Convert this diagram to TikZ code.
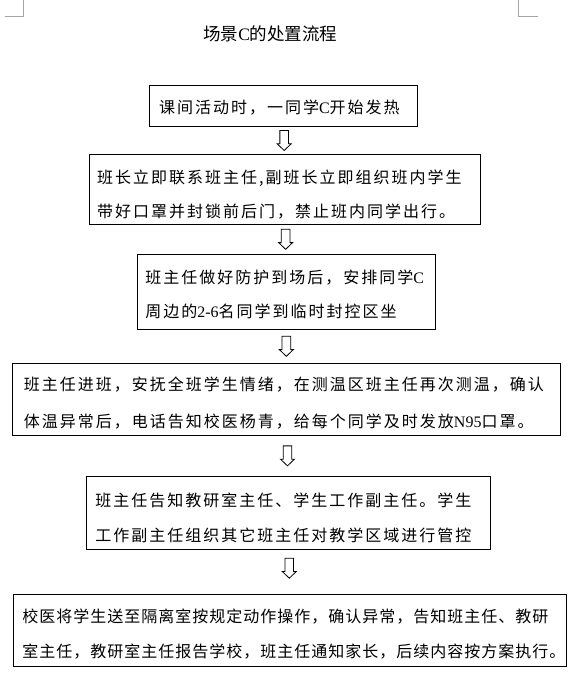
\documentclass[tikz,border=0pt]{standalone}
\usepackage{fontspec}
\usetikzlibrary{calc}
\newfontfamily\cjkbody[LetterSpace=12.5]{Noto Sans CJK SC}
\newfontfamily\cjkbodyb[LetterSpace=6.25]{Noto Sans CJK SC}
\newfontfamily\cjktitle{Noto Sans CJK SC}
\newfontfamily\latf{Liberation Serif}
\newcommand\LatinTxt[1]{{\latf #1}}
\begin{document}
\begin{tikzpicture}[x=1pt,y=-1pt]
\tikzset{
  stepbox/.style={draw=black, line width=0.9pt, inner sep=0pt},
  boxtext/.style={anchor=west, inner sep=0pt, align=left, text=black},
  hollowarrow/.style={draw=black, line width=0.8pt, line join=miter, fill=white},
  cornermark/.style={draw=black!35, line width=0.8pt}
}
\fill[white] (0,0) rectangle (582,695);
\useasboundingbox (0,0) rectangle (582,695);

% page corner marks
\draw[cornermark] (4.5,16.7) -- (23.4,16.7) -- (23.4,0);
\draw[cornermark] (537.7,16.7) -- (518.4,16.7) -- (518.4,0);

% title
\node[inner sep=0pt, font=\fontsize{17.5}{20}\cjktitle] (title) at (270.4,34.3) {场景\LatinTxt{C}的处置流程};

% boxes
\node[stepbox, minimum width=268.3pt, minimum height=41pt] (b1) at (283.45,106.2) {};
\node[stepbox, minimum width=391.6pt, minimum height=70pt] (b2) at (284.9,189.3) {};
\node[stepbox, minimum width=298.1pt, minimum height=75pt] (b3) at (286.35,291.8) {};
\node[stepbox, minimum width=548.3pt, minimum height=72.4pt] (b4) at (286.35,399.5) {};
\node[stepbox, minimum width=404.2pt, minimum height=73.3pt] (b5) at (288.6,512.65) {};
\node[stepbox, minimum width=553.1pt, minimum height=72.4pt] (b6) at (290.25,630.35) {};

% texts
\node[boxtext, font=\fontsize{16}{34}\cjkbody] (t1) at ($(b1.west)+(10,1.8)$)
  {课间活动时，一同学\LatinTxt{C}开始发热};
\node[boxtext, font=\fontsize{16}{34}\cjkbody] (t2) at ($(b2.west)+(8.3,5.4)$)
  {班长立即联系班主任,副班长立即组织班内学生\\带好口罩并封锁前后门，禁止班内同学出行。};
\node[boxtext, font=\fontsize{16}{34}\cjkbody] (t3) at ($(b3.west)+(8.3,2.9)$)
  {班主任做好防护到场后，安排同学\LatinTxt{C}\\周边的\LatinTxt{2-6}名同学到临时封控区坐};
\node[boxtext, font=\fontsize{16}{36.7}\cjkbody] (t4) at ($(b4.west)+(12,3.8)$)
  {班主任进班，安抚全班学生情绪，在测温区班主任再次测温，确认\\体温异常后，电话告知校医杨青，给每个同学及时发放\LatinTxt{N95}口罩。};
\node[boxtext, font=\fontsize{16}{35}\cjkbody] (t5) at ($(b5.west)+(9,4.85)$)
  {班主任告知教研室主任、学生工作副主任。学生\\工作副主任组织其它班主任对教学区域进行管控};
\node[boxtext, font=\fontsize{16}{35}\cjkbodyb] (t6) at ($(b6.west)+(9,3.85)$)
  {校医将学生送至隔离室按规定动作操作，确认异常，告知班主任、教研\\室主任，教研室主任报告学校，班主任通知家长，后续内容按方案执行。};

% hollow down arrows between the boxes
\coordinate (a1) at ($(b1.south)!0.5!(b2.north)$);
\coordinate (a2) at ($(b2.south)!0.5!(b3.north)$);
\coordinate (a3) at ($(b3.south)!0.5!(b4.north)$);
\coordinate (a4) at ($(b4.south)!0.5!(b5.north)$);
\coordinate (a5) at ($(b5.south)!0.42!(b6.north)$);
\foreach \a in {a1,a2,a3,a4,a5}{
  \draw[hollowarrow] ($(\a)+(-4.3,-10)$) -- ++(8.6,0) -- ++(0,13.3) -- ++(2.7,0)
    -- ++(-7,6.7) -- ++(-7,-6.7) -- ++(2.7,0) -- cycle;
}
\end{tikzpicture}
\end{document}
